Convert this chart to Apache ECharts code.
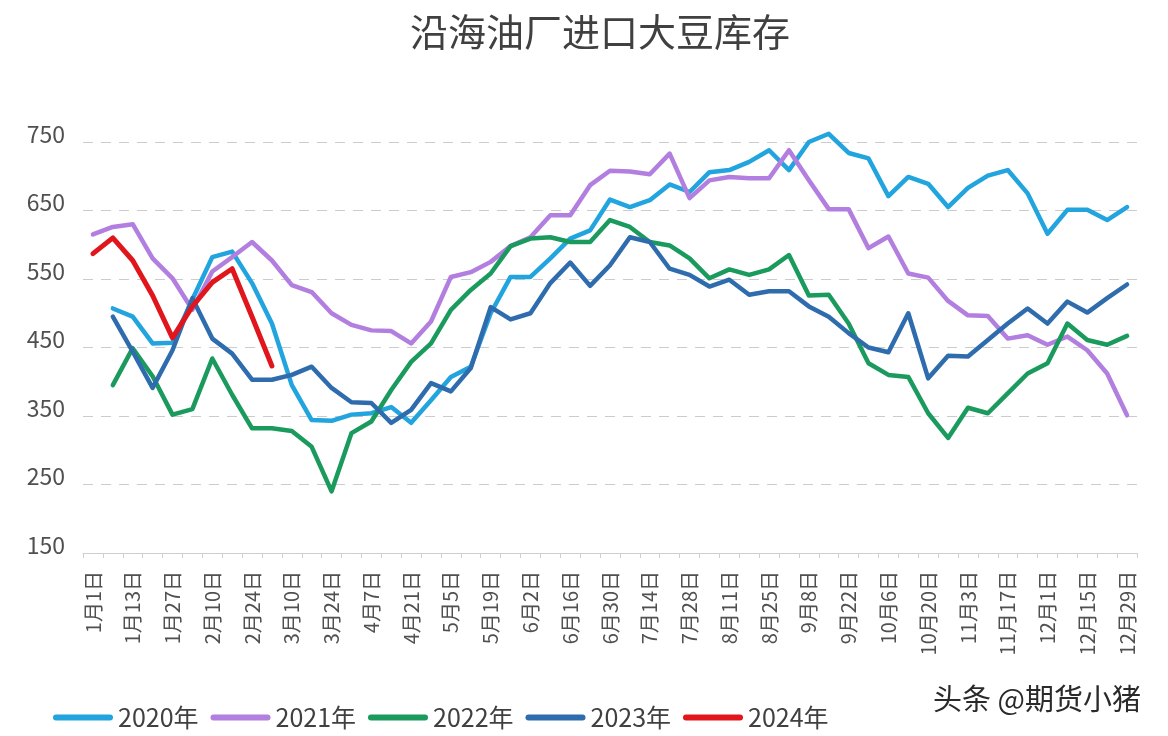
<!DOCTYPE html>
<html>
<head>
<meta charset="utf-8">
<script src="https://cdn.jsdelivr.net/npm/echarts@6/dist/echarts.min.js"></script>
<style>
html,body{margin:0;padding:0;background:#fff;}
#chart{width:1168px;height:736px;}
</style>
</head>
<body>
<div id="chart"></div>
<script>
const categories = ['1月1日','1月6日','1月13日','1月20日','1月27日','2月3日','2月10日','2月17日','2月24日','3月3日','3月10日','3月17日','3月24日','3月31日','4月7日','4月14日','4月21日','4月28日','5月5日','5月12日','5月19日','5月26日','6月2日','6月9日','6月16日','6月23日','6月30日','7月7日','7月14日','7月21日','7月28日','8月4日','8月11日','8月18日','8月25日','9月1日','9月8日','9月15日','9月22日','9月29日','10月6日','10月13日','10月20日','10月27日','11月3日','11月10日','11月17日','11月24日','12月1日','12月8日','12月15日','12月22日','12月29日'];

const seriesNames = ['2020年','2021年','2022年','2023年','2024年'];

const data2020 = [null,507,495,456,457,520,582,590,544,485,395,344,343,352,354,363,340,373,407,422,500,553,553,580,609,621,666,655,665,688,677,706,709,721,738,709,750,762,734,726,671,699,689,655,683,701,709,675,616,651,651,636,655];
const data2021 = [615,626,630,580,551,505,561,582,604,577,541,531,500,483,475,474,456,488,553,560,575,598,611,643,643,687,708,707,703,733,668,694,699,697,697,738,694,652,652,595,612,558,552,518,497,496,463,468,454,466,446,412,351];
const data2022 = [null,395,449,408,352,360,434,381,332,332,328,305,240,325,342,388,429,456,505,534,558,598,609,611,604,604,636,626,604,599,580,551,564,556,564,585,526,527,485,427,410,407,354,318,362,354,383,412,427,485,461,454,467];
const data2023 = [null,495,444,391,446,522,463,441,403,403,410,422,391,370,369,340,359,398,386,420,509,491,500,544,574,540,570,611,604,565,556,539,549,527,532,532,510,495,471,450,443,500,405,438,437,461,485,507,485,517,501,522,542];
const data2024 = [587,610,577,526,464,510,545,565,495,423];

const yMin = 150, yMax = 750, yStep = 100;
const colors = ['#22a4de','#b27edf','#1a9a5c','#2f6cae','#e0161c'];

const chart = echarts.init(document.getElementById('chart'));
const allData = [data2020, data2021, data2022, data2023, data2024];

chart.setOption({
  backgroundColor: '#ffffff',
  animation: false,
  title: {
    text: '沿海油厂进口大豆库存',
    left: 405,
    top: 8,
    textStyle: {
      fontFamily: '"Noto Sans CJK SC", sans-serif',
      fontSize: 38,
      fontWeight: 'normal',
      color: '#404040'
    }
  },
  legend: {
    left: 48,
    top: 700,
    itemWidth: 60,
    itemHeight: 6,
    itemGap: 12,
    icon: 'path://M3,0 L57,0 A3,3 0 0 1 57,6 L3,6 A3,3 0 0 1 3,0 Z',
    textStyle: {
      fontFamily: '"Noto Sans CJK SC", sans-serif',
      fontSize: 25,
      color: '#404040'
    },
    data: seriesNames
  },
  grid: {
    left: 83,
    right: 31,
    top: 142,
    bottom: 183,
    containLabel: false
  },
  xAxis: {
    type: 'category',
    data: categories,
    boundaryGap: true,
    axisLine: { show: true, lineStyle: { color: '#cfcfcf', width: 1 } },
    axisTick: { show: true, interval: 0, length: 5, lineStyle: { color: '#cfcfcf' } },
    axisLabel: {
      interval: 1,
      rotate: 90,
      margin: 18,
      fontFamily: '"Noto Sans CJK SC", sans-serif',
      fontSize: 20,
      color: '#505050'
    }
  },
  yAxis: {
    type: 'value',
    min: yMin,
    max: yMax,
    interval: yStep,
    axisLine: { show: false },
    axisTick: { show: false },
    splitLine: { show: true, lineStyle: { color: '#cccccc', type: [10, 8], width: 1 } },
    axisLabel: {
      margin: 18,
      fontFamily: '"Noto Sans CJK SC", sans-serif',
      fontSize: 23,
      color: '#505050',
      verticalAlign: 'bottom',
      lineHeight: 16
    }
  },
  graphic: [{
    type: 'text',
    left: 933,
    top: 684,
    style: {
      text: '头条 @期货小猪',
      font: '29px "Noto Sans CJK SC", sans-serif',
      fill: '#2a2a2a'
    }
  }],
  series: seriesNames.map((name, k) => ({
    name: name,
    type: 'line',
    data: allData[k],
    showSymbol: false,
    symbol: 'none',
    clip: false,
    connectNulls: false,
    lineStyle: { width: k === 4 ? 5 : 4.5, color: colors[k], cap: 'round', join: 'round' },
    itemStyle: { color: colors[k] },
    z: 2 + k
  }))
});
</script>
</body>
</html>
